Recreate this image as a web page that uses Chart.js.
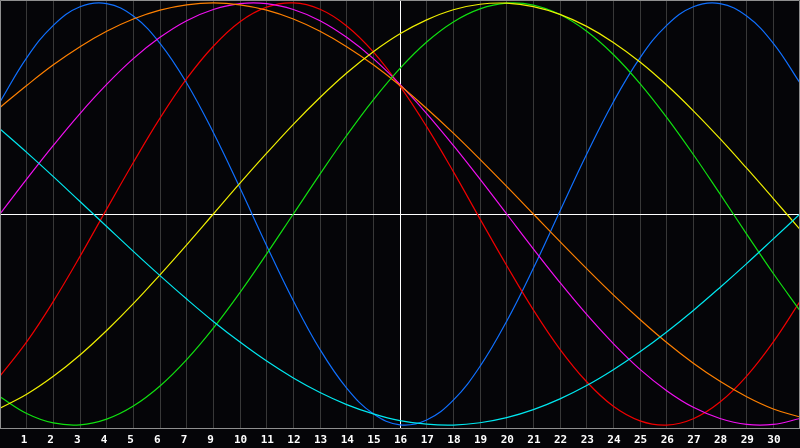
<!DOCTYPE html>
<html>
<head>
<meta charset="utf-8">
<script src="https://cdn.jsdelivr.net/npm/chart.js@4"></script>
<style>
  html, body { margin: 0; padding: 0; background: #050508; }
  #wrap { width: 800px; height: 448px; }
</style>
</head>
<body>
<div id="wrap"><canvas id="bio-chart"></canvas></div>
<script>
// day index along the x axis (0 = left edge, 30 = right edge)
const days = [0, 1, 2, 3, 4, 5, 6, 7, 8, 9, 10, 11, 12, 13, 14, 15, 16, 17, 18, 19, 20, 21, 22, 23, 24, 25, 26, 27, 28, 29, 30];

// labels printed under grid lines 1..29 (the original skips "8")
const tickLabels = ["1", "2", "3", "4", "5", "6", "7", "9", "10", "11", "12", "13", "14", "15", "16",
  "17", "18", "19", "20", "21", "22", "23", "24", "25", "26", "27", "28", "29", "30"];

// cycle values, -1..1
const blue = [0.531, 0.740, 0.894, 0.982, 0.997, 0.938, 0.809, 0.621, 0.386, 0.123, -0.150, -0.411, -0.642, -0.825,
  -0.947, -0.999, -0.976, -0.882, -0.722, -0.508, -0.257, 0.014, 0.283, 0.531, 0.740, 0.894, 0.982, 0.997, 0.938,
  0.809, 0.621];
const red = [-0.768, -0.606, -0.414, -0.201, 0.023, 0.244, 0.454, 0.641, 0.795, 0.911, 0.980, 1.000, 0.970, 0.891,
  0.768, 0.606, 0.414, 0.201, -0.023, -0.244, -0.454, -0.641, -0.795, -0.911, -0.980, -1.000, -0.970, -0.891,
  -0.768, -0.606, -0.414];
const green = [-0.866, -0.945, -0.990, -0.999, -0.972, -0.910, -0.815, -0.690, -0.541, -0.372, -0.189, 0.000, 0.189,
  0.372, 0.541, 0.690, 0.815, 0.910, 0.972, 0.999, 0.990, 0.945, 0.866, 0.756, 0.618, 0.458, 0.282, 0.095, -0.095,
  -0.282, -0.458];
const magenta = [0.000, 0.165, 0.325, 0.476, 0.614, 0.736, 0.837, 0.916, 0.969, 0.997, 0.997, 0.969, 0.916, 0.837,
  0.736, 0.614, 0.476, 0.325, 0.165, 0.000, -0.165, -0.325, -0.476, -0.614, -0.736, -0.837, -0.916, -0.969, -0.997,
  -0.997, -0.969];
const yellow = [-0.920, -0.854, -0.769, -0.668, -0.552, -0.425, -0.288, -0.146, 0.000, 0.146, 0.288, 0.425, 0.552,
  0.668, 0.769, 0.854, 0.920, 0.968, 0.994, 0.999, 0.983, 0.946, 0.889, 0.813, 0.720, 0.611, 0.489, 0.357, 0.217,
  0.073, -0.073];
const orange = [0.505, 0.609, 0.707, 0.793, 0.866, 0.924, 0.966, 0.991, 1.000, 0.991, 0.966, 0.924, 0.866, 0.793,
  0.707, 0.609, 0.500, 0.383, 0.259, 0.131, 0.000, -0.131, -0.259, -0.383, -0.500, -0.609, -0.707, -0.793, -0.866,
  -0.924, -0.962];
const cyan = [0.403, 0.292, 0.177, 0.059, -0.059, -0.177, -0.292, -0.403, -0.509, -0.607, -0.697, -0.777, -0.846,
  -0.903, -0.947, -0.979, -0.996, -1.000, -0.989, -0.965, -0.927, -0.876, -0.813, -0.738, -0.653, -0.559, -0.457,
  -0.348, -0.235, -0.118, 0.000];

const frameColor = "#8f8f8f";
const gridColor = "#383838";

function line(values, color) {
  return {
    data: values,
    borderColor: color,
    borderWidth: 1.2,
    pointRadius: 0,
    tension: 0.4,
    fill: false,
  };
}

const backdrop = {
  id: "backdrop",
  beforeDraw(chart) {
    const c = chart.ctx;
    c.save();
    c.fillStyle = "#050508";
    c.fillRect(0, 0, chart.width, chart.height);
    c.restore();
  },
  afterDraw(chart) {
    const { left, top, right, bottom } = chart.chartArea;
    const c = chart.ctx;
    c.save();
    c.strokeStyle = frameColor;
    c.lineWidth = 1;
    c.beginPath();
    c.moveTo(left + 0.5, bottom);
    c.lineTo(left + 0.5, top + 0.5);
    c.lineTo(right - 0.5, top + 0.5);
    c.lineTo(right - 0.5, bottom);
    c.stroke();
    c.restore();
  },
};

const canvas = document.getElementById("bio-chart");
const ctx = canvas.getContext("2d");

canvas.chart = new Chart(ctx, {
  type: "line",
  data: {
    labels: days,
    datasets: [
      line(cyan, "#00e8f0"),
      line(yellow, "#f0f000"),
      line(green, "#10e010"),
      line(orange, "#ff8000"),
      line(magenta, "#f010f0"),
      line(red, "#f00000"),
      line(blue, "#1070ff"),
    ],
  },
  options: {
    responsive: true,
    maintainAspectRatio: false,
    animation: false,
    // the negative bottom pad lets the label box hang a little past the canvas
    layout: { padding: { top: 0, left: 0, right: 0, bottom: -5 }, autoPadding: false },
    plugins: {
      legend: { display: false },
      tooltip: { enabled: false },
    },
    scales: {
      x: {
        type: "category",
        offset: false,
        grid: {
          drawTicks: false,
          color: (c) => (c.index === 15 ? "#ffffff" : gridColor),
        },
        border: { color: frameColor },
        ticks: {
          autoSkip: false,
          maxRotation: 0,
          align: "start",
          labelOffset: -6,
          padding: 0,
          color: "#ffffff",
          font: { family: "DejaVu Sans Mono", size: 11, weight: "bold", lineHeight: "25px" },
          callback: (value, i) => (i >= 1 && i <= 29 ? tickLabels[i - 1] : ""),
        },
      },
      y: {
        min: -1.014,
        max: 1.014,
        grid: {
          drawTicks: false,
          color: (c) => (c.tick && c.tick.value === 0 ? "#ffffff" : "transparent"),
        },
        border: { display: false },
        ticks: { display: false, stepSize: 1 },
      },
    },
  },
  plugins: [backdrop],
});
</script>
</body>
</html>
